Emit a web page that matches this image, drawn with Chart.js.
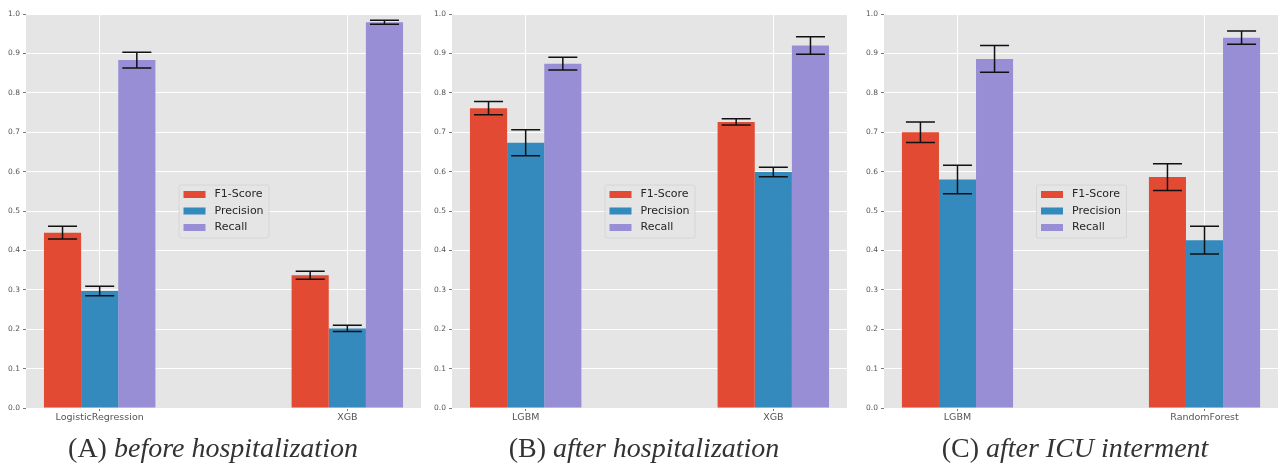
<!DOCTYPE html>
<html>
<head>
<meta charset="utf-8">
<script src="https://cdn.jsdelivr.net/npm/chart.js@4.4.0/dist/chart.umd.min.js"></script>
<style>
  body { margin: 0; background: #fff; width: 1278px; height: 466px; overflow: hidden; position: relative; }
  canvas { position: absolute; top: 0; }
  .cap { position: absolute; top: 431px; width: 400px; height: 34px; line-height: 34px; text-align: center;
         font-family: "Liberation Serif", serif; font-size: 28px; color: #333; white-space: nowrap; }
</style>
</head>
<body>
<canvas id="chartA" width="421" height="432" style="left:0px"></canvas>
<canvas id="chartB" width="426" height="432" style="left:421px"></canvas>
<canvas id="chartC" width="431" height="432" style="left:847px"></canvas>
<div class="cap" style="left:13px">(A) <i>before hospitalization</i></div>
<div class="cap" style="left:444px">(B) <i>after hospitalization</i></div>
<div class="cap" style="left:875px">(C) <i>after ICU interment</i></div>
<script>
// data
const metricNames = ["F1-Score", "Precision", "Recall"];

// (A) before hospitalization
const modelsA = ["LogisticRegression", "XGB"];
const f1A = [0.445, 0.337];
const precisionA = [0.297, 0.202];
const recallA = [0.883, 0.979];
const f1ErrA = [0.016, 0.010];
const precisionErrA = [0.012, 0.008];
const recallErrA = [0.020, 0.005];

// (B) after hospitalization
const modelsB = ["LGBM", "XGB"];
const f1B = [0.761, 0.726];
const precisionB = [0.673, 0.599];
const recallB = [0.874, 0.920];
const f1ErrB = [0.017, 0.008];
const precisionErrB = [0.033, 0.012];
const recallErrB = [0.016, 0.022];

// (C) after ICU interment
const modelsC = ["LGBM", "RandomForest"];
const f1C = [0.700, 0.586];
const precisionC = [0.580, 0.426];
const recallC = [0.886, 0.940];
const f1ErrC = [0.026, 0.034];
const precisionErrC = [0.036, 0.035];
const recallErrC = [0.034, 0.017];

const colors = ["#E24A33", "#348ABD", "#988ED5"];

// gray ggplot panel
const panelBg = {
  id: "panelBg",
  beforeDraw(chart) {
    const { ctx, chartArea: a } = chart;
    ctx.save();
    ctx.fillStyle = "#E5E5E5";
    ctx.fillRect(a.left, a.top, a.right - a.left, a.bottom - a.top);
    ctx.restore();
  },
};

const errorBars = {
  id: "errorBars",
  afterDatasetsDraw(chart) {
    const { ctx } = chart;
    const y = chart.scales.y;
    const cap = 14.5;
    ctx.save();
    ctx.strokeStyle = "#111";
    ctx.lineWidth = 1.5;
    chart.data.datasets.forEach((ds, di) => {
      chart.getDatasetMeta(di).data.forEach((bar, i) => {
        const v = ds.data[i].y;
        const e = ds.errors[i];
        const top = y.getPixelForValue(v + e);
        const bot = y.getPixelForValue(v - e);
        ctx.beginPath();
        ctx.moveTo(bar.x, top); ctx.lineTo(bar.x, bot);
        ctx.moveTo(bar.x - cap, top); ctx.lineTo(bar.x + cap, top);
        ctx.moveTo(bar.x - cap, bot); ctx.lineTo(bar.x + cap, bot);
        ctx.stroke();
      });
    });
    ctx.restore();
  },
};

// legend box in the middle of the plot, like matplotlib loc="best"
const centerLegend = {
  id: "centerLegend",
  afterDraw(chart) {
    const { ctx, chartArea: a } = chart;
    const w = 90, h = 53;
    const left = (a.left + a.right) / 2 - w / 2;
    const top = (a.top + a.bottom) / 2 - h / 2;
    ctx.save();
    ctx.fillStyle = "rgba(229,229,229,0.8)";
    ctx.strokeStyle = "#d6d6d6";
    ctx.lineWidth = 1;
    ctx.beginPath();
    ctx.roundRect(left + 0.5, top + 0.5, w, h, 2);
    ctx.fill();
    ctx.stroke();
    ctx.font = '11px "DejaVu Sans"';
    ctx.textBaseline = "middle";
    chart.data.datasets.forEach((ds, i) => {
      const cy = top + 10 + i * 16.5;
      ctx.fillStyle = ds.backgroundColor;
      ctx.fillRect(left + 5, cy - 3.5, 22, 7);
      ctx.fillStyle = "#262626";
      ctx.fillText(ds.label, left + 36, cy);
    });
    ctx.restore();
  },
};

function makeChart(id, models, values, errors, yWidth) {
  const ctx = document.getElementById(id).getContext("2d");
  return new Chart(ctx, {
    type: "bar",
    data: {
      datasets: metricNames.map((name, k) => ({
        label: name,
        backgroundColor: colors[k],
        borderWidth: 0,
        data: models.map((m, i) => ({ x: i, y: values[k][i] })),
        errors: errors[k],
      })),
    },
    options: {
      responsive: false,
      animation: false,
      devicePixelRatio: 1,
      categoryPercentage: 0.45,
      barPercentage: 1,
      layout: { padding: { top: 14, right: 0, left: 0, bottom: 0 } },
      plugins: { legend: { display: false }, tooltip: { enabled: false } },
      scales: {
        x: {
          type: "linear",
          offset: false,
          min: -0.2975,
          max: 1.2975,
          afterBuildTicks: (s) => { s.ticks = models.map((m, i) => ({ value: i })); },
          afterFit: (s) => { s.height = 24; },
          grid: { color: "#ffffff", lineWidth: 1, offset: false, tickLength: 3, tickColor: "#777" },
          border: { display: false },
          ticks: {
            padding: 1,
            color: "#555",
            font: { family: "DejaVu Sans", size: 9.5 },
            callback: (v) => models[v],
            maxRotation: 0,
          },
        },
        y: {
          min: 0,
          max: 1,
          afterFit: (s) => { s.width = yWidth; },
          grid: { color: "#ffffff", lineWidth: 1, tickLength: 3, tickColor: "#777" },
          border: { display: false },
          ticks: {
            stepSize: 0.1,
            padding: 3,
            color: "#555",
            font: { family: "DejaVu Sans", size: 7.5 },
            callback: (v) => v.toFixed(1),
          },
        },
      },
    },
    plugins: [panelBg, errorBars, centerLegend],
  });
}

makeChart("chartA", modelsA, [f1A, precisionA, recallA], [f1ErrA, precisionErrA, recallErrA], 26);
makeChart("chartB", modelsB, [f1B, precisionB, recallB], [f1ErrB, precisionErrB, recallErrB], 31);
makeChart("chartC", modelsC, [f1C, precisionC, recallC], [f1ErrC, precisionErrC, recallErrC], 37);
</script>
</body>
</html>
